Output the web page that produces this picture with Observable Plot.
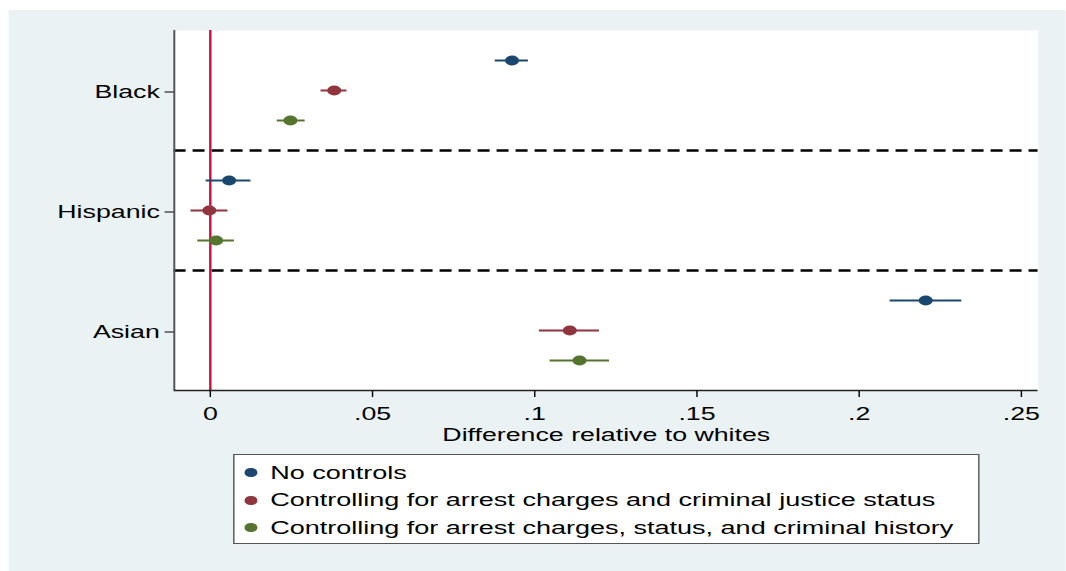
<!DOCTYPE html>
<html>
<head>
<meta charset="utf-8">
<script src="https://cdn.jsdelivr.net/npm/d3@7"></script>
<script src="https://cdn.jsdelivr.net/npm/@observablehq/plot@0.6"></script>
<style>
  html, body { margin: 0; padding: 0; background: #ffffff; overflow: hidden; width: 1066px; height: 571px; }
  #stage { position: absolute; left: 0; top: 0; height: 571px; transform-origin: 0 0; }
  #panel { position: absolute; top: 10px; height: 561px; background: #eaf2f3; }
  #chart { position: absolute; left: 0; top: 0; }
  #legend { position: absolute; box-sizing: border-box; background: #ffffff; border: 1px solid #555;
            font-family: "Liberation Sans", Arial, sans-serif; font-size: 18.9px; color: #000;
            padding-top: 4px; }
  .row { display: flex; align-items: center; height: 27.5px; white-space: nowrap; }
  .sw { width: 8.6px; height: 8.6px; border-radius: 50%; flex: none; }
</style>
</head>
<body>
<div id="stage"><div id="panel"><div id="chart"></div><div id="legend"></div></div></div>
<script>
// ---- data ----
const groups = ["Black", "Hispanic", "Asian"];
const models = [
  "No controls",
  "Controlling for arrest charges and criminal justice status",
  "Controlling for arrest charges, status, and criminal history"
];
const colors = ["#1a476f", "#90353b", "#55752f"];
// values per group (Black, Hispanic, Asian)
const estNoControls = [0.0930, 0.0058, 0.2205];
const loNoControls  = [0.0879, -0.0012, 0.2096];
const hiNoControls  = [0.0981, 0.0126, 0.2317];
const estArrest = [0.0382, -0.0003, 0.1108];
const loArrest  = [0.0342, -0.0059, 0.1015];
const hiArrest  = [0.0422, 0.0055, 0.1200];
const estHistory = [0.0247, 0.0018, 0.1138];
const loHistory  = [0.0207, -0.0038, 0.1048];
const hiHistory  = [0.0293, 0.0075, 0.1231];
const xTicks = [0, 0.05, 0.1, 0.15, 0.2, 0.25];
const xTitle = "Difference relative to whites";

// ---- layout ----
const SX = 1.43;                 // horizontal stretch of the reference rendering
const pageW = 1066, panelL = 9;
const stageW = pageW / SX;
const stage = document.getElementById("stage");
stage.style.width = stageW + "px";
stage.style.transform = `scaleX(${SX})`;
const panel = document.getElementById("panel");
panel.style.left = (panelL / SX) + "px";
const panelW = (pageW - panelL) / SX;
panel.style.width = panelW + "px";

const est = [estNoControls, estArrest, estHistory];
const lo = [loNoControls, loArrest, loHistory];
const hi = [hiNoControls, hiArrest, hiHistory];
const offsets = [0.25, 0, -0.25];
const rows = [];
groups.forEach((g, gi) => {
  models.forEach((m, mi) => {
    rows.push({group: g, model: m, pos: groups.length - gi + offsets[mi],
               est: est[mi][gi], lo: lo[mi][gi], hi: hi[mi][gi]});
  });
});

const xDomain = [-0.0111, 0.2552];
const yDomain = [0.5, 3.5];

const chart = Plot.plot({
  width: panelW,
  height: 440,
  marginLeft: (174 - panelL) / SX,
  marginRight: (pageW - 1038) / SX,
  marginTop: 20,
  marginBottom: 60,
  style: {background: "transparent", fontFamily: "'Liberation Sans', Arial, sans-serif", fontSize: "18.7px", color: "#000"},
  x: {domain: xDomain},
  y: {domain: yDomain},
  color: {domain: models, range: colors},
  marks: [
    Plot.frame({fill: "white", stroke: "none"}),
    Plot.ruleY([1.5, 2.5], {stroke: "#000", strokeWidth: 2.4, strokeDasharray: `${12 / SX},${7 / SX}`}),
    Plot.ruleX([0], {stroke: "#c8103b", strokeWidth: 2.4 / SX}),
    Plot.ruleY(rows, {y: "pos", x1: "lo", x2: "hi", stroke: "model", strokeWidth: 2}),
    Plot.dot(rows, {x: "est", y: "pos", fill: "model", r: 4.9}),
    Plot.ruleX([xDomain[0]], {stroke: "#555", strokeWidth: 2 / SX}),
    Plot.ruleY([yDomain[0]], {stroke: "#222", strokeWidth: 1.3}),
    Plot.axisX({ticks: xTicks, tickFormat: d => d === 0 ? "0" : String(d).replace(/^0/, ""),
                tickSize: 7, tickPadding: 9.5, label: xTitle, labelAnchor: "center",
                labelArrow: "none", labelOffset: 51}),
    Plot.axisY({ticks: [1, 2, 3], tickFormat: d => groups[groups.length - d],
                tickSize: 9 / SX, tickPadding: 5.5 / SX, label: null, dy: 1.5})
  ]
});
document.getElementById("chart").appendChild(chart);

// ---- legend ----
const legend = document.getElementById("legend");
legend.style.left = ((233 - panelL) / SX) + "px";
legend.style.top = (454 - 10) + "px";
legend.style.width = ((979 - 233) / SX) + "px";
legend.style.height = "90px";
models.forEach((m, i) => {
  const row = document.createElement("div");
  row.className = "row";
  const sw = document.createElement("span");
  sw.className = "sw";
  sw.style.background = colors[i];
  sw.style.marginLeft = (10.5 / SX) + "px";
  const t = document.createElement("span");
  t.textContent = m;
  t.style.marginLeft = (13 / SX) + "px";
  row.appendChild(sw);
  row.appendChild(t);
  legend.appendChild(row);
});
</script>
</body>
</html>
